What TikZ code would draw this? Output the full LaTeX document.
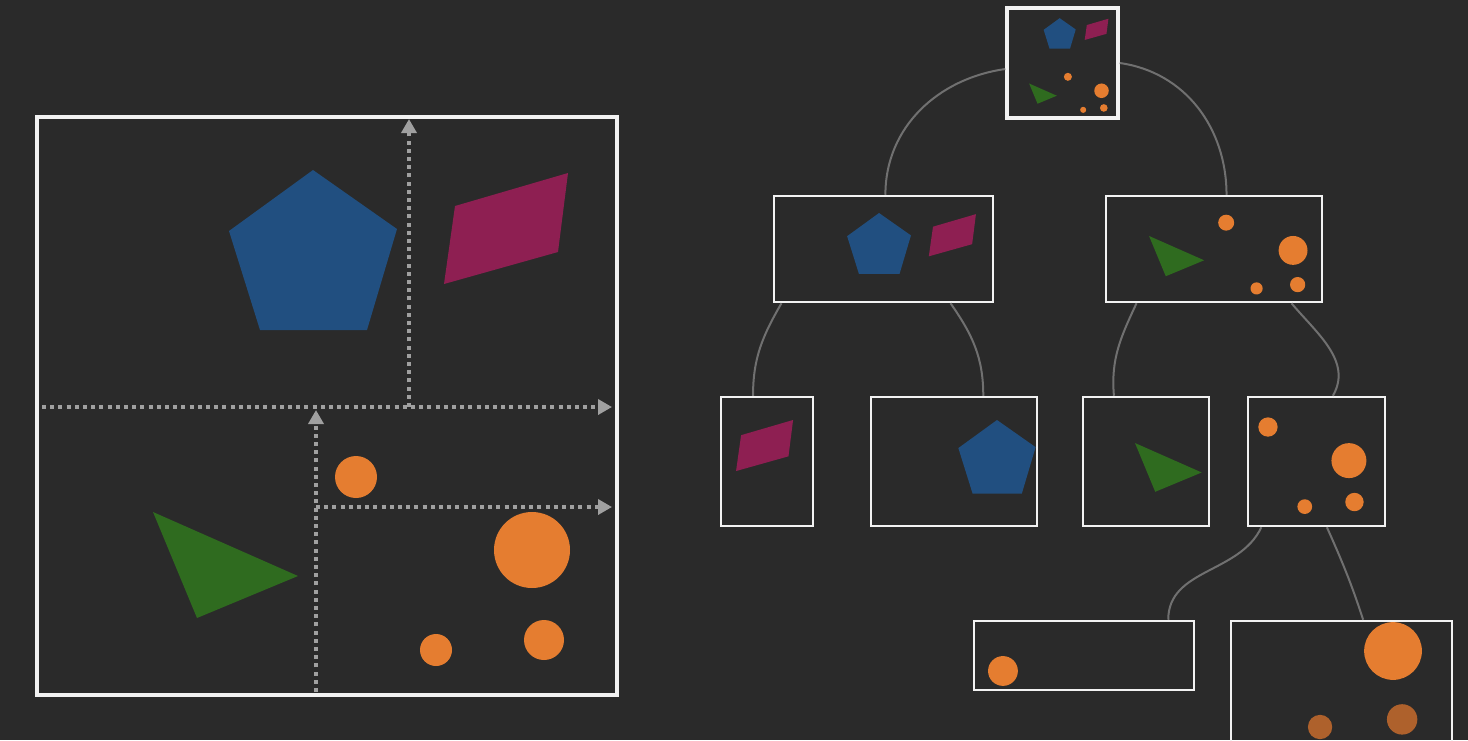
\documentclass[tikz,border=0pt]{standalone}
\usepackage{tikz}
\usetikzlibrary{arrows.meta}
\usetikzlibrary{calc}

\definecolor{bgdark}{HTML}{2A2A2A}
\definecolor{pentablue}{HTML}{214F80}
\definecolor{quadred}{HTML}{8E1F52}
\definecolor{trigreen}{HTML}{2F6B1F}
\definecolor{dotorange}{HTML}{E57D30}
\definecolor{dotdark}{HTML}{AE612C}
\definecolor{splitgray}{HTML}{A0A0A0}
\definecolor{edgegray}{HTML}{707070}
\definecolor{boxwhite}{HTML}{F2F2F2}

\newcommand{\shapePenta}{\fill[pentablue] (313,170) -- (397,229) -- (367,330) -- (260,330) -- (229,231) -- cycle;}
\newcommand{\shapeQuad}{\fill[quadred] (444,284) -- (455,206) -- (568,173) -- (558,252) -- cycle;}
\newcommand{\shapeTri}{\fill[trigreen] (153,512) -- (298,576) -- (197,618) -- cycle;}
\newcommand{\shapeDotTop}{\fill[dotorange] (356,477) circle (21);}
\newcommand{\shapeDotsLow}{\fill[dotorange] (532,550) circle (38);
        \fill[dotorange] (436,650) circle (16);
        \fill[dotorange] (544,640) circle (20);}

\begin{document}
\begin{tikzpicture}[x=1pt, y=-1pt,
        every node/.style={rectangle, inner sep=0pt},
        treebox/.style={draw=boxwhite, line width=2.5pt},
        treeedge/.style={edgegray, line width=2pt},
        splitline/.style={splitgray, line width=4pt, dash pattern=on 4pt off 4.2pt, -{Triangle[length=14pt, width=15pt]}}]
        \useasboundingbox (0,0) rectangle (1468,740);
        \fill[bgdark] (0,0) rectangle (1468,740);
        \clip (0,0) rectangle (1468,740);

        \draw[boxwhite, line width=3.5pt] (37,117) rectangle (617,695);
        \draw[splitline] (42,407) -- (612,407);
        \draw[splitline] (409,407) -- (409,119);
        \draw[splitline] (316,692) -- (316,410);
        \draw[splitline] (316,507) -- (612,507);
        \shapePenta \shapeQuad \shapeTri \shapeDotTop \shapeDotsLow

        \node[treebox, line width=3.5pt, minimum width=111pt, minimum height=110pt] (root) at (1062.5,63) {};
        \node[treebox, minimum width=219pt, minimum height=106pt] (top) at (883.5,249) {};
        \node[treebox, minimum width=216pt, minimum height=106pt] (bottom) at (1214,249) {};
        \node[treebox, minimum width=92pt, minimum height=129pt] (quadleaf) at (767,461.5) {};
        \node[treebox, minimum width=166pt, minimum height=129pt] (pentaleaf) at (954,461.5) {};
        \node[treebox, minimum width=126pt, minimum height=129pt] (trileaf) at (1146,461.5) {};
        \node[treebox, minimum width=137pt, minimum height=129pt] (dotnode) at (1316.5,461.5) {};
        \node[treebox, minimum width=220pt, minimum height=69pt] (dotleafa) at (1084,655.5) {};
        \node[treebox, minimum width=221pt, minimum height=139pt] (dotleafb) at (1341.5,690.5) {};

        \draw[treeedge] (root.-174) to[out=188, in=90] (top.88);
        \draw[treeedge] (root.east) to[out=-8, in=90] (bottom.77);
        \draw[treeedge] (top.-152) to[out=-120, in=90] (quadleaf.102);
        \draw[treeedge] (top.-39) to[out=-55, in=90] (pentaleaf.66);
        \draw[treeedge] (bottom.-145) to[out=-115, in=95] (trileaf.116);
        \draw[treeedge] (bottom.-35) to[out=-50, in=60] (dotnode.76);
        \draw[treeedge] (dotnode.-130) to[out=-115, in=90] (dotleafa.23);
        \draw[treeedge] (dotnode.-81) to[out=-66, in=108] (dotleafb.73);

        \begin{scope}[shift={(999.9,-14.3)}, scale=0.191]
          \shapePenta \shapeQuad \shapeTri \shapeDotTop \shapeDotsLow
        \end{scope}
        \begin{scope}[shift={(760.1,148.4)}, scale=0.38]
          \shapePenta \shapeQuad
        \end{scope}
        \begin{scope}[shift={(1090.9,41.4)}, scale=0.38]
          \shapeTri \shapeDotTop \shapeDotsLow
        \end{scope}
        \begin{scope}[shift={(531.8,340.4)}, scale=0.46]
          \shapeQuad
        \end{scope}
        \begin{scope}[shift={(853,341.8)}, scale=0.46]
          \shapePenta
        \end{scope}
        \begin{scope}[shift={(1064.6,207.5)}, scale=0.46]
          \shapeTri
        \end{scope}
        \begin{scope}[shift={(1104.2,207.6)}, scale=0.46]
          \shapeDotTop \shapeDotsLow
        \end{scope}
        \begin{scope}[shift={(750.2,332.3)}, scale=0.71]
          \shapeDotTop
        \end{scope}
        \begin{scope}[shift={(988.7,233)}, scale=0.76]
          \fill[dotorange] (532,550) circle (38);
          \fill[dotdark] (436,650) circle (16);
          \fill[dotdark] (544,640) circle (20);
        \end{scope}
\end{tikzpicture}
\end{document}
